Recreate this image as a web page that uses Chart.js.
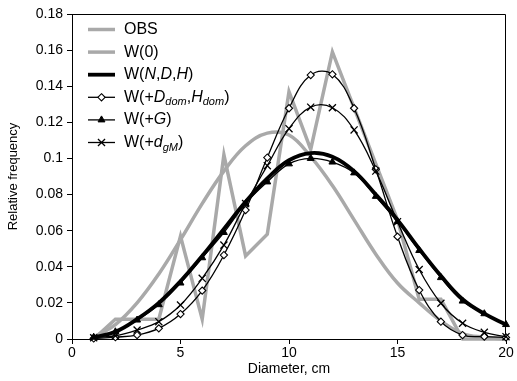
<!DOCTYPE html>
<html>
<head>
<meta charset="utf-8">
<script src="https://cdn.jsdelivr.net/npm/chart.js@4.4.0/dist/chart.umd.min.js"></script>
<style>
  html, body { margin: 0; padding: 0; background: #fff; }
  #wrap { width: 517px; height: 381px; }
</style>
</head>
<body>
<div id="wrap"><canvas id="freqChart" width="517" height="381"></canvas></div>
<script>
const diameters = [1, 2, 3, 4, 5, 6, 7, 8, 9, 10, 11, 12, 13, 14, 15, 16, 17, 18, 19, 20];
const obs   = [0, 0.011, 0.011, 0.011, 0.057, 0.011, 0.102, 0.046, 0.058, 0.137, 0.105, 0.159, 0.128, 0.097, 0.066, 0.022, 0.022, 0, 0, 0];
const w0    = [0.001, 0.008, 0.02, 0.036, 0.055, 0.075, 0.093, 0.107, 0.114, 0.113, 0.101, 0.085, 0.066, 0.047, 0.031, 0.02, 0.01, 0.003, 0.001, 0];
const wNDH  = [0.001, 0.004, 0.011, 0.02, 0.032, 0.046, 0.061, 0.076, 0.089, 0.099, 0.103, 0.101, 0.093, 0.08, 0.066, 0.05, 0.035, 0.022, 0.014, 0.008];
const wDdom = [0.0003, 0.001, 0.0022, 0.0059, 0.0138, 0.0268, 0.0465, 0.0714, 0.1005, 0.1278, 0.1462, 0.1466, 0.1278, 0.094, 0.0567, 0.0271, 0.0096, 0.0022, 0.0013, 0.0009];
const wG    = [0.001, 0.004, 0.0105, 0.019, 0.031, 0.045, 0.059, 0.075, 0.087, 0.097, 0.1, 0.098, 0.092, 0.079, 0.065, 0.049, 0.034, 0.021, 0.014, 0.008];
const wdgM  = [0.0007, 0.0018, 0.005, 0.0096, 0.0188, 0.0336, 0.052, 0.075, 0.096, 0.1165, 0.1284, 0.1281, 0.1158, 0.093, 0.065, 0.0385, 0.0198, 0.0087, 0.0037, 0.0013];

const xTicks = [0, 5, 10, 15, 20];
const yTicks = [0, 0.02, 0.04, 0.06, 0.08, 0.1, 0.12, 0.14, 0.16, 0.18];

// legend text pieces: n = normal, i = italic, s = italic subscript
const legendParts = [
  [['OBS', 'n']],
  [['W(0)', 'n']],
  [['W(', 'n'], ['N', 'i'], [',', 'n'], ['D', 'i'], [',', 'n'], ['H', 'i'], [')', 'n']],
  [['W(+', 'n'], ['D', 'i'], ['dom', 's'], [',', 'n'], ['H', 'i'], ['dom', 's'], [')', 'n']],
  [['W(+', 'n'], ['G', 'i'], [')', 'n']],
  [['W(+', 'n'], ['d', 'i'], ['gM', 's'], [')', 'n']],
];

const GRAY = '#a9a9a9';
const FONT = '"Liberation Sans", Arial, sans-serif';

const pts = vals => vals.map((v, i) => ({ x: diameters[i], y: v }));
const clipBox = { left: 6, right: 8, top: 6, bottom: 6 };

function series(label, vals, extra) {
  return Object.assign({
    label,
    data: pts(vals),
    borderColor: '#000',
    backgroundColor: '#000',
    borderWidth: 1.3,
    pointRadius: 0,
    pointHoverRadius: 0,
    tension: 0.4,
    clip: clipBox,
  }, extra);
}

const datasets = [
  series('OBS', obs, { borderColor: GRAY, borderWidth: 3.5, tension: 0, order: 6 }),
  series('W(0)', w0, { borderColor: GRAY, borderWidth: 3.5, order: 5 }),
  series('W(N,D,H)', wNDH, { borderWidth: 3.8, order: 4 }),
  series('W(+Ddom,Hdom)', wDdom, { pointStyle: 'rectRot', pointRadius: 3.6, pointBackgroundColor: '#fff', pointBorderColor: '#000', pointBorderWidth: 1.1, order: 3 }),
  series('W(+G)', wG, { pointStyle: 'triangle', pointRadius: 4, pointBackgroundColor: '#000', pointBorderColor: '#000', pointBorderWidth: 1, order: 2 }),
  series('W(+dgM)', wdgM, { pointStyle: 'crossRot', pointRadius: 5, pointBorderColor: '#000', pointBorderWidth: 1.3, order: 1 }),
];

function drawMarker(ctx, ds, x, y) {
  const r = ds.pointRadius;
  ctx.save();
  ctx.lineWidth = ds.pointBorderWidth;
  ctx.strokeStyle = '#000';
  ctx.fillStyle = ds.pointBackgroundColor || '#000';
  ctx.beginPath();
  if (ds.pointStyle === 'rectRot') {
    ctx.moveTo(x, y - r); ctx.lineTo(x + r, y); ctx.lineTo(x, y + r); ctx.lineTo(x - r, y); ctx.closePath();
    ctx.fill(); ctx.stroke();
  } else if (ds.pointStyle === 'triangle') {
    ctx.moveTo(x, y - r); ctx.lineTo(x + r * 0.866, y + r * 0.5); ctx.lineTo(x - r * 0.866, y + r * 0.5); ctx.closePath();
    ctx.fill(); ctx.stroke();
  } else {
    const d = r * 0.707;
    ctx.moveTo(x - d, y - d); ctx.lineTo(x + d, y + d);
    ctx.moveTo(x + d, y - d); ctx.lineTo(x - d, y + d);
    ctx.stroke();
  }
  ctx.restore();
}

const frameBox = {
  id: 'frameBox',
  beforeDatasetsDraw(chart) {
    const { ctx, chartArea: a } = chart;
    ctx.save();
    ctx.strokeStyle = '#000';
    ctx.lineWidth = 1;
    ctx.beginPath();
    ctx.moveTo(a.left, a.top + 0.5);
    ctx.lineTo(a.right - 0.5, a.top + 0.5);
    ctx.lineTo(a.right - 0.5, a.bottom);
    ctx.stroke();
    ctx.restore();
  }
};

const richLegend = {
  id: 'richLegend',
  afterDraw(chart) {
    const { ctx, chartArea: a } = chart;
    const x0 = a.left + 16, x1 = a.left + 43, tx = a.left + 52;
    ctx.save();
    ctx.textBaseline = 'middle';
    ctx.fillStyle = '#000';
    chart.data.datasets.forEach((ds, i) => {
      const y = a.top + 15.5 + i * 22.6;
      ctx.strokeStyle = ds.borderColor;
      ctx.lineWidth = ds.borderWidth;
      ctx.beginPath();
      ctx.moveTo(x0, y);
      ctx.lineTo(x1, y);
      ctx.stroke();
      if (ds.pointRadius > 0) drawMarker(ctx, ds, (x0 + x1) / 2, y);
      let x = tx;
      legendParts[i].forEach(([txt, st]) => {
        if (st === 's') ctx.font = 'italic 11px ' + FONT;
        else if (st === 'i') ctx.font = 'italic 16px ' + FONT;
        else ctx.font = '16px ' + FONT;
        ctx.fillText(txt, x, st === 's' ? y + 5 : y);
        x += ctx.measureText(txt).width;
      });
    });
    ctx.restore();
  }
};

new Chart(document.getElementById('freqChart'), {
  type: 'line',
  data: { datasets },
  plugins: [frameBox, richLegend],
  options: {
    responsive: false,
    animation: false,
    devicePixelRatio: 1,
    layout: { padding: { left: 0, top: 14, right: 11, bottom: 0 } },
    plugins: { legend: { display: false }, tooltip: { enabled: false } },
    scales: {
      x: {
        type: 'linear',
        min: 0,
        max: 20,
        afterFit: s => { s.height = 42; },
        afterBuildTicks: s => { s.ticks = xTicks.map(v => ({ value: v })); },
        ticks: { color: '#000', font: { family: FONT, size: 14 }, padding: 1, maxRotation: 0 },
        grid: { drawOnChartArea: false, tickLength: 5, color: '#000' },
        border: { color: '#000', width: 1 },
        title: { display: true, text: 'Diameter, cm', color: '#000', font: { family: FONT, size: 14 }, padding: { top: 0, bottom: 3 } },
      },
      y: {
        min: 0,
        max: 0.18,
        afterFit: s => { s.width = 72; },
        afterBuildTicks: s => { s.ticks = yTicks.map(v => ({ value: v })); },
        ticks: { color: '#000', font: { family: FONT, size: 14 }, padding: 4, callback: v => String(+v.toFixed(2)) },
        grid: { drawOnChartArea: false, tickLength: 5, color: '#000' },
        border: { color: '#000', width: 1 },
        title: { display: true, text: 'Relative frequency', color: '#000', font: { family: FONT, size: 13 }, padding: { top: 6, bottom: 0 } },
      },
    },
  },
});
</script>
</body>
</html>
